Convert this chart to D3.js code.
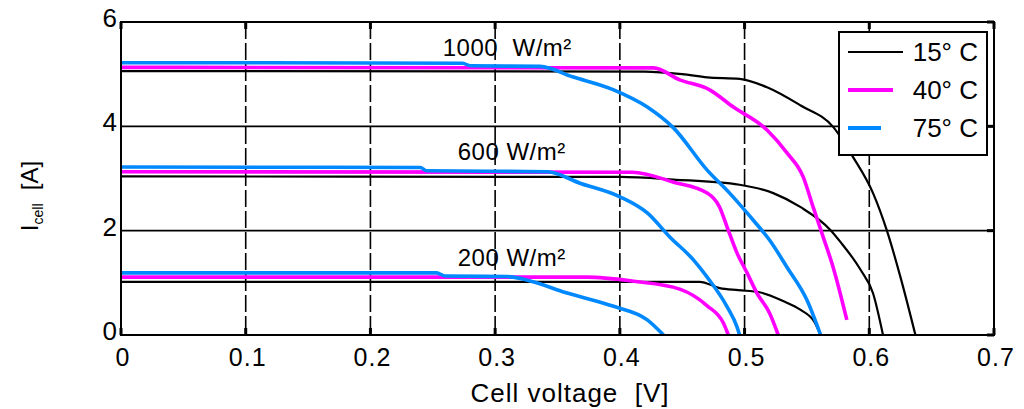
<!DOCTYPE html>
<html>
<head>
<meta charset="utf-8">
<script src="https://cdn.jsdelivr.net/npm/d3@7"></script>
<style>
  html, body { margin: 0; padding: 0; background: #fff; }
  svg { display: block; font-family: "Liberation Sans", Arial, sans-serif; }
</style>
</head>
<body>
<div id="chart"></div>
<script>
const width = 1024;
const height = 409;

// 数据：[电压 V, 电流 A]
const xTicks = [0, 0.1, 0.2, 0.3, 0.4, 0.5, 0.6, 0.7];
const yTicks = [0, 2, 4, 6];
const temps = ["15° C", "40° C", "75° C"];
const colors = ["#000000", "#ff00ff", "#0088ff"];
const irradiance = ["1000  W/m²", "600 W/m²", "200 W/m²"];
const labelPos = [[0.258, 5.35], [0.27, 3.35], [0.27, 1.33]];

const black1000 = [[0,5.06],[0.42,5.05],[0.45,5.0],[0.47,4.94],[0.496,4.91],[0.518,4.75],[0.545,4.4],[0.571,3.99],[0.587,3.41],[0.603,2.72],[0.614,2.01],[0.625,1.11],[0.637,0]];
const black600 = [[0,3.04],[0.40,3.03],[0.443,2.98],[0.496,2.88],[0.523,2.72],[0.545,2.45],[0.569,2.01],[0.577,1.78],[0.593,1.25],[0.603,0.80],[0.611,0]];
const black200 = [[0,1.02],[0.464,1.02],[0.48,0.9],[0.495,0.86],[0.512,0.82],[0.531,0.65],[0.545,0.48],[0.556,0.25],[0.561,0]];
const magenta1000 = [[0,5.13],[0.427,5.12],[0.448,4.89],[0.472,4.70],[0.491,4.37],[0.518,3.93],[0.534,3.49],[0.547,3.03],[0.555,2.45],[0.563,1.88],[0.571,1.30],[0.582,0.29]];
const magenta600 = [[0,3.13],[0.41,3.12],[0.443,2.93],[0.47,2.72],[0.48,2.45],[0.486,2.07],[0.494,1.57],[0.502,1.19],[0.51,0.8],[0.52,0.42],[0.527,0]];
const magenta200 = [[0,1.11],[0.374,1.11],[0.411,1.03],[0.448,0.88],[0.47,0.56],[0.483,0.23],[0.487,0]];
const blue1000 = [[0,5.22],[0.274,5.21],[0.28,5.16],[0.336,5.15],[0.362,4.95],[0.395,4.70],[0.422,4.37],[0.443,3.97],[0.47,3.16],[0.488,2.72],[0.507,2.20],[0.52,1.82],[0.534,1.30],[0.55,0.67],[0.561,0]];
const blue600 = [[0,3.22],[0.24,3.21],[0.245,3.15],[0.342,3.13],[0.368,2.91],[0.4,2.65],[0.422,2.34],[0.44,1.88],[0.459,1.44],[0.47,1.11],[0.486,0.54],[0.494,0.15],[0.496,0]];
const blue200 = [[0,1.19],[0.253,1.19],[0.26,1.13],[0.31,1.12],[0.326,1.05],[0.357,0.81],[0.395,0.55],[0.422,0.29],[0.435,0]];

const series = [
  { color: colors[0], w: 2.2, data: [black1000, black600, black200] },
  { color: colors[1], w: 3.6, data: [magenta1000, magenta600, magenta200] },
  { color: colors[2], w: 3.6, data: [blue1000, blue600, blue200] }
];

const svg = d3.select("#chart")
  .append("svg")
  .attr("width", width)
  .attr("height", height);

const x = d3.scaleLinear().domain([0, 0.7]).range([121, 994]);
const y = d3.scaleLinear().domain([0, 6]).range([335, 22]);

// 网格
svg.append("g")
  .selectAll("line")
  .data(xTicks.slice(1, -1))
  .join("line")
  .attr("x1", d => x(d)).attr("x2", d => x(d))
  .attr("y1", y(6)).attr("y2", y(0))
  .attr("stroke", "#000")
  .attr("stroke-width", 1.6)
  .attr("stroke-dasharray", "17,4");

svg.append("g")
  .selectAll("line")
  .data(yTicks.slice(1, -1))
  .join("line")
  .attr("x1", x(0)).attr("x2", x(0.7))
  .attr("y1", d => y(d)).attr("y2", d => y(d))
  .attr("stroke", "#000")
  .attr("stroke-width", 1.6);

// 曲线
const line = d3.line()
  .x(d => x(d[0]))
  .y(d => y(d[1]))
  .curve(d3.curveMonotoneX);
series.forEach(s => {
  svg.append("g")
    .selectAll("path")
    .data(s.data)
    .join("path")
    .attr("d", line)
    .attr("fill", "none")
    .attr("stroke", s.color)
    .attr("stroke-width", s.w)
    .attr("stroke-linejoin", "round");
});

// 坐标框
svg.append("rect")
  .attr("x", x(0)).attr("y", y(6))
  .attr("width", x(0.7) - x(0)).attr("height", y(0) - y(6))
  .attr("fill", "none")
  .attr("stroke", "#000")
  .attr("stroke-width", 2);

// 内向刻度
const tickLen = 7;
svg.append("g").selectAll("line").data(xTicks).join("line")
  .attr("x1", d => x(d)).attr("x2", d => x(d))
  .attr("y1", y(6)).attr("y2", y(6) + tickLen)
  .attr("stroke", "#000").attr("stroke-width", 3);
svg.append("g").selectAll("line").data(xTicks).join("line")
  .attr("x1", d => x(d)).attr("x2", d => x(d))
  .attr("y1", y(0)).attr("y2", y(0) - tickLen)
  .attr("stroke", "#000").attr("stroke-width", 3);
svg.append("g").selectAll("line").data(yTicks).join("line")
  .attr("x1", x(0.7)).attr("x2", x(0.7) - tickLen)
  .attr("y1", d => y(d)).attr("y2", d => y(d))
  .attr("stroke", "#000").attr("stroke-width", 3);

// 刻度标签
svg.append("g")
  .selectAll("text")
  .data(xTicks)
  .join("text")
  .attr("x", d => x(d) + 2)
  .attr("y", 366)
  .attr("text-anchor", "middle")
  .attr("font-size", 25)
  .attr("letter-spacing", 1)
  .text(d => d === 0 ? "0" : d3.format(".1f")(d));

svg.append("g")
  .selectAll("text")
  .data(yTicks)
  .join("text")
  .attr("x", 117)
  .attr("y", d => y(d) + 5)
  .attr("text-anchor", "end")
  .attr("font-size", 26)
  .text(d => d);

// 辐照度标注
svg.append("g")
  .selectAll("text")
  .data(irradiance)
  .join("text")
  .attr("x", (d, i) => x(labelPos[i][0]))
  .attr("y", (d, i) => y(labelPos[i][1]))
  .attr("font-size", 24)
  .attr("letter-spacing", 0.5)
  .attr("xml:space", "preserve")
  .text(d => d);

// 轴标题
svg.append("text")
  .attr("x", 570)
  .attr("y", 402)
  .attr("text-anchor", "middle")
  .attr("font-size", 26)
  .attr("letter-spacing", 1)
  .attr("xml:space", "preserve")
  .text("Cell voltage  [V]");

const yl = svg.append("text")
  .attr("transform", "translate(38,196) rotate(-90)")
  .attr("text-anchor", "middle")
  .attr("font-size", 24);
yl.append("tspan").text("I");
yl.append("tspan").attr("font-size", 14).attr("dy", 5).text("cell");
yl.append("tspan").attr("dy", -5).attr("xml:space", "preserve").text("  [A]");

// 图例
const legend = svg.append("g");
legend.append("rect")
  .attr("x", 839).attr("y", 32)
  .attr("width", 148).attr("height", 123)
  .attr("fill", "#fff")
  .attr("stroke", "#000")
  .attr("stroke-width", 2);

const legendLen = [55, 45, 33];
legend.selectAll("line.item")
  .data(temps)
  .join("line")
  .attr("class", "item")
  .attr("x1", 848)
  .attr("x2", (d, i) => 848 + legendLen[i])
  .attr("y1", (d, i) => 52 + i * 38)
  .attr("y2", (d, i) => 52 + i * 38)
  .attr("stroke", (d, i) => colors[i])
  .attr("stroke-width", (d, i) => i === 0 ? 2 : 4);

legend.selectAll("text")
  .data(temps)
  .join("text")
  .attr("x", 978)
  .attr("y", (d, i) => 61 + i * 38)
  .attr("text-anchor", "end")
  .attr("font-size", 26)
  .attr("xml:space", "preserve")
  .text(d => d);
</script>
</body>
</html>
